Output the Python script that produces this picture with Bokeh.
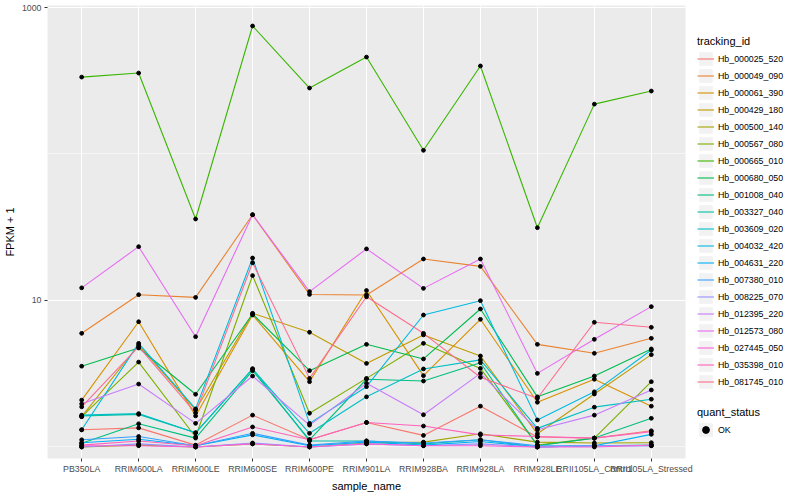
import math
from bokeh.plotting import figure
from bokeh.layouts import row
from bokeh.models import (ColumnDataSource, FixedTicker, BasicTickFormatter, Legend,
                          LegendItem, Range1d, FactorRange)
from bokeh.embed import file_html
from bokeh.resources import INLINE

samples = ["PB350LA", "RRIM600LA", "RRIM600LE", "RRIM600SE", "RRIM600PE", "RRIM901LA",
           "RRIM928BA", "RRIM928LA", "RRIM928LE", "RRII105LA_Control", "RRII105LA_Stressed"]

tracking_ids = ["Hb_000025_520", "Hb_000049_090", "Hb_000061_390", "Hb_000429_180",
                "Hb_000500_140", "Hb_000567_080", "Hb_000665_010", "Hb_000680_050",
                "Hb_001008_040", "Hb_003327_040", "Hb_003609_020", "Hb_004032_420",
                "Hb_004631_220", "Hb_007380_010", "Hb_008225_070", "Hb_012395_220",
                "Hb_012573_080", "Hb_027445_050", "Hb_035398_010", "Hb_081745_010"]

# FPKM + 1 per sample (same order as samples)
hb_000025_520 = [1.31, 1.35, 1.03, 1.65, 1.12, 1.47, 1.20, 1.90, 1.17, 1.15, 1.29]
hb_000049_090 = [5.97, 10.95, 10.5, 38.5, 11.0, 10.9, 19.2, 17.1, 5.02, 4.36, 5.52]
hb_000061_390 = [2.09, 7.16, 1.63, 7.96, 2.79, 11.7, 3.07, 7.44, 2.02, 2.90, 1.90]
hb_000429_180 = [1.61, 4.97, 1.79, 8.18, 6.07, 3.72, 5.82, 4.18, 1.23, 2.30, 4.27]
hb_000500_140 = [1.0, 1.03, 1.0, 1.05, 1.0, 1.065, 1.08, 1.23, 1.08, 1.065, 1.07]
hb_000567_080 = [1.61, 3.80, 1.17, 14.8, 1.70, 2.94, 5.10, 3.44, 1.03, 1.15, 2.79]
hb_000665_010 = [335, 357, 36.0, 748, 282, 459, 106, 399, 31.4, 219, 269]
hb_000680_050 = [3.56, 4.74, 2.29, 8.09, 3.32, 5.02, 3.99, 8.75, 2.20, 3.05, 4.67]
hb_001008_040 = [1.06, 1.44, 1.15, 3.32, 1.12, 2.90, 2.82, 3.76, 1.02, 1.15, 1.57]
hb_003327_040 = [1.63, 1.67, 1.25, 3.42, 1.10, 1.10, 1.05, 1.12, 1.0, 1.02, 1.03]
hb_003609_020 = [1.65, 1.69, 1.25, 3.41, 1.24, 2.20, 3.41, 3.93, 1.34, 1.87, 2.12]
hb_004032_420 = [1.31, 5.10, 1.82, 19.5, 1.45, 2.58, 7.96, 9.97, 1.53, 2.38, 4.59]
hb_004631_220 = [1.07, 1.13, 1.02, 1.21, 1.02, 1.08, 1.03, 1.09, 1.0, 1.02, 1.22]
hb_007380_010 = [1.12, 1.18, 1.02, 1.24, 1.03, 1.10, 1.065, 1.12, 1.02, 1.02, 1.02]
hb_008225_070 = [1.0, 1.05, 1.0, 1.065, 1.0, 1.05, 1.02, 1.05, 1.0, 1.02, 1.02]
hb_012395_220 = [1.97, 2.69, 1.45, 3.05, 1.41, 2.72, 1.66, 3.18, 1.31, 1.65, 2.45]
hb_012573_080 = [12.2, 23.3, 5.66, 38.5, 11.5, 22.5, 12.1, 19.2, 3.18, 5.43, 9.08]
hb_027445_050 = [1.02, 1.02, 1.0, 1.05, 1.0, 1.05, 1.02, 1.02, 1.0, 1.0, 1.03]
hb_035398_010 = [1.03, 1.10, 1.02, 1.37, 1.12, 1.47, 1.39, 1.21, 1.18, 1.15, 1.27]
hb_081745_010 = [1.88, 4.84, 1.71, 18.1, 2.94, 10.6, 5.97, 2.99, 2.15, 7.10, 6.56]

series = [hb_000025_520, hb_000049_090, hb_000061_390, hb_000429_180, hb_000500_140,
          hb_000567_080, hb_000665_010, hb_000680_050, hb_001008_040, hb_003327_040,
          hb_003609_020, hb_004032_420, hb_004631_220, hb_007380_010, hb_008225_070,
          hb_012395_220, hb_012573_080, hb_027445_050, hb_035398_010, hb_081745_010]

colors = ["#F8766D", "#EA8331", "#D89000", "#C09B00", "#A3A500", "#7CAE00", "#39B600",
          "#00BB4E", "#00BF7D", "#00C1A3", "#00BFC4", "#00BAE0", "#00B0F6", "#35A2FF",
          "#9590FF", "#C77CFF", "#E76BF3", "#FA62DB", "#FF62BC", "#FF6C91"]

FONT = "Liberation Sans"

p = figure(x_range=FactorRange(factors=samples, range_padding=0.1, range_padding_units="absolute"),
           y_range=Range1d(0.8345, 1032), y_axis_type="log",
           frame_width=638, frame_height=453,
           min_border_top=5, min_border_bottom=26, min_border_left=0, min_border_right=10,
           output_backend="svg", toolbar_location=None,
           background_fill_color="#EBEBEB", border_fill_color="white")
p.outline_line_color = None

yt = FixedTicker(ticks=[10, 1000], minor_ticks=[1, 100])
p.yaxis.ticker = yt
p.yaxis.formatter = BasicTickFormatter()
p.ygrid.ticker = yt
p.ygrid.grid_line_color = "white"
p.ygrid.grid_line_width = 1.1
p.ygrid.minor_grid_line_color = "white"
p.ygrid.minor_grid_line_width = 0.55
p.xgrid.grid_line_color = "white"
p.xgrid.grid_line_width = 1.1

for ax in (p.xaxis, p.yaxis):
    ax.axis_line_color = None
    ax.major_tick_line_color = "#333333"
    ax.major_tick_out = 3
    ax.major_tick_in = 0
    ax.minor_tick_line_color = None
    ax.major_label_text_font = FONT
    ax.major_label_text_font_size = "8.8px"
    ax.major_label_text_color = "#4D4D4D"
    ax.major_label_standoff = 2
    ax.axis_label_text_font = FONT
    ax.axis_label_text_font_size = "11px"
    ax.axis_label_text_font_style = "normal"
    ax.axis_label_text_color = "black"
p.xaxis.axis_label = "sample_name"
p.yaxis.axis_label = "FPKM + 1"
p.xaxis.axis_label_standoff = 3
p.yaxis.axis_label_standoff = 3

for vals, col in zip(series, colors):
    p.line(x=samples, y=vals, line_color=col, line_width=1.1)

px, py = [], []
for vals in series:
    px.extend(samples)
    py.extend(vals)
p.scatter(x=px, y=py, size=3.8, marker="circle", fill_color="black", line_color="black")

# ---- legend panel (separate figure to the right) ----
lp = figure(width=100, height=484, x_range=Range1d(0, 1), y_range=Range1d(0, 1),
            x_axis_location=None, y_axis_location=None,
            min_border=0, output_backend="svg", toolbar_location=None)
lp.grid.visible = False
lp.outline_line_color = None

nan = float("nan")
key_bg = lp.quad(left=[nan], right=[nan], top=[nan], bottom=[nan],
                 fill_color="#F2F2F2", line_color=None)
items = []
for tid, col in zip(tracking_ids, colors):
    r = lp.line(x=[nan], y=[nan], line_color=col, line_width=1.1)
    items.append(LegendItem(label=tid, renderers=[key_bg, r]))
pt_proxy = lp.scatter(x=[nan], y=[nan], marker="circle", fill_color="black", line_color="black")


def style_legend(lg):
    lg.glyph_width = 17
    lg.glyph_height = 17
    lg.label_height = 17
    lg.spacing = 0
    lg.padding = 0
    lg.margin = 0
    lg.border_line_color = None
    lg.background_fill_alpha = 0
    lg.label_text_font = FONT
    lg.label_text_font_size = "8.8px"
    lg.label_text_color = "black"
    lg.label_standoff = 4
    lg.title_text_font = FONT
    lg.title_text_font_size = "11px"
    lg.title_text_font_style = "normal"
    lg.title_text_color = "black"
    lg.title_standoff = 3


leg1 = Legend(items=items, title="tracking_id", location=(2, 58))
style_legend(leg1)
lp.add_layout(leg1)

leg2 = Legend(items=[LegendItem(label="OK", renderers=[key_bg, pt_proxy])], title="quant_status",
              location=(2, 10))
style_legend(leg2)
lp.add_layout(leg2)

layout = row(p, lp)
open("out.html", "w").write(file_html(layout, INLINE))
